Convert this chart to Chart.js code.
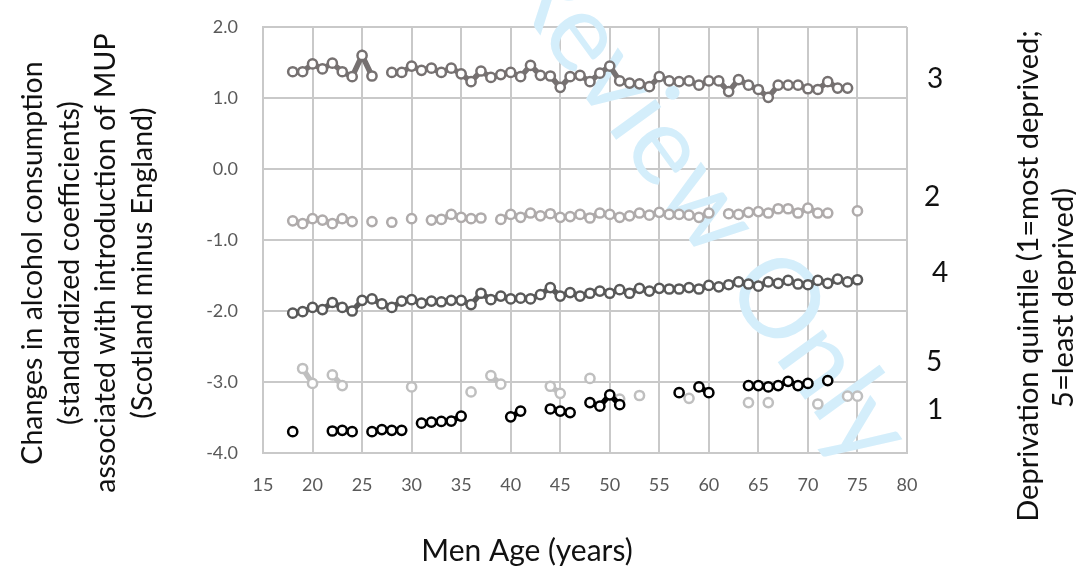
<!DOCTYPE html>
<html>
<head>
<meta charset="utf-8">
<script src="https://cdn.jsdelivr.net/npm/chart.js@4/dist/chart.umd.min.js"></script>
<style>
  html, body { margin: 0; padding: 0; background: #ffffff; }
  canvas { display: block; }
</style>
</head>
<body>
<canvas id="chart" width="1076" height="568"></canvas>
<script>
// Age in years (men), one entry per data point
const ages = [18,19,20,21,22,23,24,25,26,27,28,29,30,31,32,33,34,35,36,37,38,39,40,41,42,43,44,45,46,
              47,48,49,50,51,52,53,54,55,56,57,58,59,60,61,62,63,64,65,66,67,68,69,70,71,72,73,74,75];

// Standardized coefficients by deprivation quintile (null = no estimate for that age)
const quintile1 = [-3.70,null,null,null,-3.69,-3.68,-3.70,null,-3.70,-3.67,-3.68,-3.68,null,-3.58,-3.565,-3.555,-3.55,-3.48,null,null,
                   null,null,-3.49,-3.41,null,null,-3.38,-3.41,-3.43,null,-3.29,-3.34,-3.18,-3.32,null,null,null,null,null,-3.15,
                   null,-3.07,-3.15,null,null,null,-3.05,-3.05,-3.07,-3.05,-2.99,-3.05,-3.02,null,-2.98,null,null,null];
const quintile2 = [-0.73,-0.77,-0.70,-0.72,-0.77,-0.70,-0.74,null,-0.74,null,-0.75,null,-0.70,null,-0.72,-0.71,-0.64,-0.68,-0.70,-0.69,
                   null,-0.71,-0.64,-0.68,-0.62,-0.66,-0.63,-0.68,-0.67,-0.64,-0.69,-0.62,-0.64,-0.68,-0.66,-0.62,-0.65,-0.61,-0.64,-0.64,
                   -0.65,-0.68,-0.62,null,-0.63,-0.64,-0.61,-0.60,-0.62,-0.56,-0.56,-0.62,-0.55,-0.62,-0.62,null,null,-0.59];
const quintile3 = [1.37,1.37,1.48,1.41,1.49,1.37,1.30,1.60,1.31,null,1.36,1.36,1.45,1.39,1.42,1.36,1.42,1.34,1.23,1.38,
                   1.29,1.33,1.36,1.30,1.46,1.32,1.31,1.15,1.30,1.32,1.23,1.35,1.45,1.24,1.21,1.20,1.16,1.30,1.24,1.23,
                   1.24,1.18,1.24,1.24,1.09,1.26,1.18,1.12,1.01,1.18,1.18,1.18,1.13,1.12,1.23,1.14,1.14,null];
const quintile4 = [-2.03,-2.01,-1.95,-1.98,-1.88,-1.95,-2.00,-1.85,-1.83,-1.90,-1.95,-1.86,-1.84,-1.89,-1.86,-1.87,-1.85,-1.85,-1.91,-1.75,
                   -1.84,-1.79,-1.83,-1.82,-1.83,-1.77,-1.67,-1.79,-1.74,-1.79,-1.75,-1.72,-1.75,-1.70,-1.75,-1.68,-1.72,-1.68,-1.69,-1.69,
                   -1.67,-1.69,-1.64,-1.66,-1.63,-1.59,-1.62,-1.65,-1.59,-1.61,-1.57,-1.62,-1.63,-1.57,-1.61,-1.55,-1.59,-1.56];
const quintile5 = [null,-2.81,-3.02,null,-2.90,-3.05,null,null,null,null,null,null,-3.07,null,null,null,null,null,-3.14,null,
                   -2.91,-3.03,null,null,null,null,-3.06,-3.16,null,null,-2.95,null,null,-3.24,null,-3.19,null,null,null,null,
                   -3.23,null,null,null,null,null,-3.29,null,-3.29,null,null,null,null,-3.31,null,null,-3.20,-3.20];

// Axis ranges and tick steps
const xRange = { min: 15, max: 80, step: 5 };
const yRange = { min: -4, max: 2, step: 1 };

// Quintile labels written beside the plot, placed at these heights on the value axis
const quintileLabels = ['3', '2', '4', '5', '1'];
const quintileLabelValues = [1.27, -0.39, -1.46, -2.72, -3.39];

const FONT = 'Lato, "Liberation Sans", sans-serif';

function series(values) {
  return ages.map((a, i) => ({ x: a, y: values[i] }));
}

function lineSet(label, values, color) {
  return {
    label,
    data: series(values),
    borderColor: color,
    borderWidth: 5.5,
    pointRadius: 4.6,
    pointHoverRadius: 4.6,
    pointBorderWidth: 2.5,
    pointBorderColor: color,
    pointBackgroundColor: '#ffffff',
    spanGaps: false,
    tension: 0
  };
}

// Draws the faint diagonal stamp beneath the data
const stampPlugin = {
  id: 'stamp',
  beforeDatasetsDraw(chart) {
    const ctx = chart.ctx;
    const size = 110;
    const angle = 54 * Math.PI / 180;
    ctx.save();
    ctx.font = '400 ' + size + 'px ' + FONT;
    // place the "O" of the last word at a fixed spot, then work back to the text end
    const wLast = ctx.measureText('Only').width;
    const wO = ctx.measureText('O').width;
    const capH = 0.72 * size;
    const ux = Math.cos(angle), uy = Math.sin(angle);
    const nx = -Math.sin(angle), ny = Math.cos(angle);
    const cx = 780, cy = 298;
    const along = wLast - wO / 2;
    const ex = cx + ux * along + nx * capH / 2;
    const ey = cy + uy * along + ny * capH / 2;
    ctx.translate(ex, ey);
    ctx.rotate(angle);
    ctx.fillStyle = '#d4eefb';
    ctx.textAlign = 'right';
    ctx.textBaseline = 'alphabetic';
    ctx.fillText('For Peer Review Only', 0, 0);
    ctx.restore();
  }
};

// Axis titles and quintile labels
const textPlugin = {
  id: 'texts',
  afterDraw(chart) {
    const ctx = chart.ctx;
    const yScale = chart.scales.y;
    ctx.save();
    ctx.fillStyle = '#111111';
    ctx.textAlign = 'center';
    ctx.textBaseline = 'middle';

    // Left axis title
    ctx.font = '28.5px ' + FONT;
    const leftLines = ['Changes in alcohol consumption', '(standardized coefficients)',
                       'associated with introduction of MUP', '(Scotland minus England)'];
    const leftX = [33, 70, 106, 143];
    leftLines.forEach((t, i) => {
      ctx.save();
      ctx.translate(leftX[i], 263);
      ctx.rotate(-Math.PI / 2);
      ctx.fillText(t, 0, 0);
      ctx.restore();
    });

    // Right axis title
    ctx.font = '29px ' + FONT;
    const rightLines = ['Deprivation quintile (1=most deprived;', '5=least deprived)'];
    const rightX = [1029, 1064];
    const rightY = [276, 298];
    rightLines.forEach((t, i) => {
      ctx.save();
      ctx.translate(rightX[i], rightY[i]);
      ctx.rotate(-Math.PI / 2);
      ctx.fillText(t, 0, 0);
      ctx.restore();
    });

    // Bottom axis title
    ctx.font = '30px ' + FONT;
    ctx.fillText('Men Age (years)', 527, 551);

    // Quintile numbers
    ctx.font = '28px ' + FONT;
    const numX = [935, 932, 940, 934, 935];
    quintileLabels.forEach((t, i) => {
      ctx.fillText(t, numX[i], yScale.getPixelForValue(quintileLabelValues[i]));
    });
    ctx.restore();
  }
};

new Chart(document.getElementById('chart'), {
  type: 'line',
  data: {
    datasets: [
      lineSet('1', quintile1, '#000000'),
      lineSet('2', quintile2, '#afabab'),
      lineSet('3', quintile3, '#767171'),
      lineSet('4', quintile4, '#595959'),
      lineSet('5', quintile5, '#bfbfbf')
    ]
  },
  options: {
    responsive: false,
    animation: false,
    devicePixelRatio: 1,
    layout: { padding: { left: 0, right: 169, top: 27, bottom: 0 } },
    plugins: {
      legend: { display: false },
      tooltip: { enabled: false }
    },
    scales: {
      x: {
        type: 'linear',
        min: xRange.min,
        max: xRange.max,
        afterFit(scale) { scale.height = 115; },
        grid: { color: '#c9c9c9', lineWidth: 2, drawTicks: false },
        border: { color: '#c9c9c9', width: 2 },
        ticks: {
          stepSize: xRange.step,
          padding: 21,
          color: '#595959',
          font: { family: FONT, size: 18 }
        }
      },
      y: {
        min: yRange.min,
        max: yRange.max,
        afterFit(scale) {
          scale.width = 263;
          scale.paddingTop = 0;
          scale.paddingBottom = 0;
        },
        grid: { color: '#c9c9c9', lineWidth: 2, drawTicks: false },
        border: { color: '#c9c9c9', width: 2 },
        ticks: {
          stepSize: yRange.step,
          padding: 25,
          color: '#595959',
          font: { family: FONT, size: 18 },
          callback: v => v.toFixed(1)
        }
      }
    }
  },
  plugins: [stampPlugin, textPlugin]
});
</script>
</body>
</html>
